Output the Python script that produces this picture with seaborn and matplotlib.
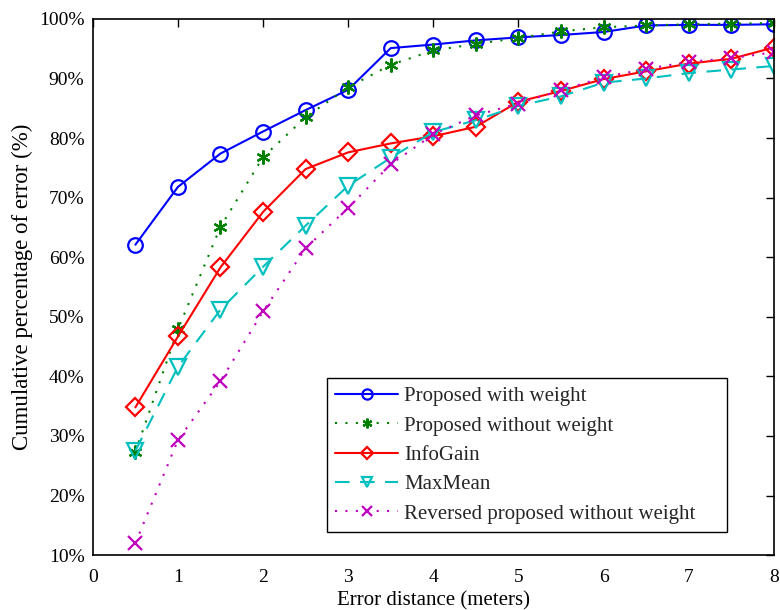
import numpy as np
import pandas as pd
import matplotlib
matplotlib.use("Agg")
import matplotlib.pyplot as plt
import seaborn as sns
from matplotlib.ticker import FuncFormatter, MultipleLocator

# Error distance (meters)
distance = [0.5, 1.0, 1.5, 2.0, 2.5, 3.0, 3.5, 4.0, 4.5, 5.0, 5.5, 6.0, 6.5, 7.0, 7.5, 8.0]

# Cumulative percentage of error (%)
proposed_with_weight = [62.1, 71.8, 77.4, 81.1, 84.7, 88.1, 95.1, 95.7, 96.4, 96.9, 97.3, 97.8, 98.9, 99.0, 99.0, 99.1]
proposed_without_weight = [27.3, 47.9, 65.1, 76.8, 83.5, 88.5, 92.3, 94.7, 95.8, 96.8, 97.9, 98.6, 98.9, 99.1, 99.2, 99.3]
info_gain = [34.8, 46.7, 58.3, 67.6, 74.8, 77.6, 79.1, 80.3, 81.9, 86.1, 87.9, 89.9, 91.2, 92.5, 93.3, 95.2]
max_mean = [27.5, 41.6, 51.2, 58.4, 65.3, 72.0, 76.7, 81.0, 83.0, 85.4, 87.0, 89.3, 90.0, 90.9, 91.5, 92.1]
reversed_without_weight = [12.0, 29.3, 39.2, 50.9, 61.5, 68.3, 75.6, 80.6, 83.8, 85.8, 88.0, 90.2, 91.6, 92.8, 93.4, 94.4]

series_names = [
    "Proposed with weight",
    "Proposed without weight",
    "InfoGain",
    "MaxMean",
    "Reversed proposed without weight",
]
series_values = [
    proposed_with_weight,
    proposed_without_weight,
    info_gain,
    max_mean,
    reversed_without_weight,
]

frames = []
for name, vals in zip(series_names, series_values):
    frames.append(pd.DataFrame({"distance": distance, "percent": vals, "method": name}))
df = pd.concat(frames, ignore_index=True)

sns.set_theme(style="white")
plt.rcParams["font.family"] = ["Liberation Serif", "DejaVu Serif"]

asterisk = (6, 2, 0)
styles = {
    "Proposed without weight": dict(color=(0, 0.5, 0), linestyle=(0, (1, 4)), marker=asterisk, ms=10),
    "Proposed with weight": dict(color=(0, 0, 1), linestyle="-", marker="o", ms=10.5),
    "InfoGain": dict(color=(1, 0, 0), linestyle="-", marker="D", ms=9),
    "MaxMean": dict(color=(0, 0.75, 0.75), linestyle=(0, (7, 5)), marker="v", ms=11),
    "Reversed proposed without weight": dict(color=(0.75, 0, 0.75), linestyle=(0, (1, 4)), marker="x", ms=10),
}

fig = plt.figure(figsize=(7.8, 6.1), dpi=100)
ax = fig.add_axes([0.119, 0.090, 0.873, 0.879])

for name in series_names:
    st = styles[name]
    sub = df[df["method"] == name]
    filled = st["marker"] in (asterisk, "x")
    sns.lineplot(
        data=sub, x="distance", y="percent", ax=ax,
        color=st["color"], linestyle=st["linestyle"], linewidth=1.5,
        marker=st["marker"], markersize=st["ms"],
        markerfacecolor=st["color"] if filled else "none",
        markeredgecolor=st["color"], markeredgewidth=1.6,
        label=name, legend=False, errorbar=None,
    )

ax.set_xlim(0, 8)
ax.set_ylim(10, 100)
ax.xaxis.set_major_locator(MultipleLocator(1))
ax.yaxis.set_major_locator(MultipleLocator(10))
ax.yaxis.set_major_formatter(FuncFormatter(lambda v, p: f"{int(round(v))}%"))
ax.tick_params(axis="both", direction="in", top=True, right=True, length=6,
               width=1.0, labelsize=14, color="black", labelcolor="black")
ax.tick_params(axis="x", pad=10)
ax.tick_params(axis="y", pad=6)
for sp in ax.spines.values():
    sp.set_color("black")
    sp.set_linewidth(1.2)

ax.set_xlabel("Error distance (meters)", fontsize=15, color="black", labelpad=4)
ax.set_ylabel("Cumulative percentage of error (%)", fontsize=16.5, color="black", labelpad=4)

# legend box spans a fixed width in axes coordinates, text left-aligned
handles, labels = ax.get_legend_handles_labels()
leg = ax.legend(handles, labels, loc="lower left", bbox_to_anchor=(0.344, 0.043, 0.588, 0.28),
                mode="expand", fontsize=15, frameon=True, fancybox=False, edgecolor="black",
                framealpha=1, handlelength=3.0, borderpad=0.4, labelspacing=0.47,
                handletextpad=0.3, borderaxespad=0.0, markerscale=0.7)
leg.get_frame().set_linewidth(1.0)

fig.savefig("out.png", dpi=100)
